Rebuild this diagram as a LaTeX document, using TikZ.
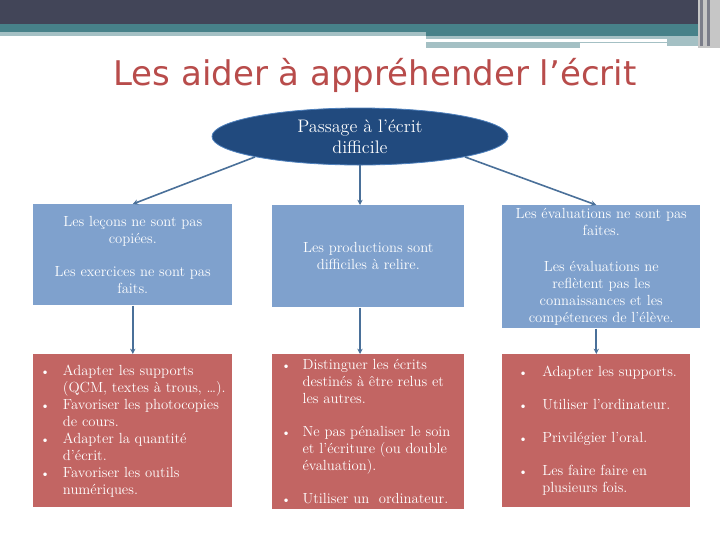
\documentclass[tikz,border=0pt]{standalone}
\usepackage{fontspec}
\newfontfamily\titrefont{DejaVu Sans}
\usetikzlibrary{arrows.meta,shapes.geometric}

\definecolor{bandeau}{RGB}{66,69,88}
\definecolor{sarcelle}{RGB}{71,129,137}
\definecolor{sarcelleclair}{RGB}{164,192,196}
\definecolor{titre}{RGB}{184,76,75}
\definecolor{ovale}{RGB}{33,74,126}
\definecolor{ovalebord}{RGB}{79,129,189}
\definecolor{bleuboite}{RGB}{127,161,205}
\definecolor{rougeboite}{RGB}{194,101,99}
\definecolor{lien}{RGB}{74,112,153}

\newcommand{\px}{0.75pt}
\newcommand{\puce}[1][14pt]{\makebox[#1][l]{\hspace*{-3pt}{\small\textbullet}}}
\newcommand{\suite}[1][14pt]{\hspace*{#1}}

\tikzset{
    boite/.style={rectangle, text=white, inner sep=0pt, anchor=north west,
        font=\fontsize{11}{12.75}\selectfont},
    bleu/.style={boite, fill=bleuboite, align=center},
    rouge/.style={boite, fill=rougeboite},
    liste/.style={text=white, inner sep=0pt, anchor=west, align=left,
        font=\fontsize{11}{12.75}\selectfont},
    fleche/.style={->, draw=lien, line width=1.2pt}
}

\begin{document}
\begin{tikzpicture}[x=0.75pt, y=-0.75pt, >={Stealth[length=4pt,width=4pt]}]
\useasboundingbox (0,0) rectangle (720,540);

%% bandeau du haut
\fill[bandeau] (0,0) rectangle (720,24);
\fill[sarcelle] (0,24) rectangle (720,32);
\fill[sarcelleclair] (0,32) rectangle (426,36);
\fill[sarcelle] (426,32) rectangle (700,36);
\fill[sarcelleclair] (426,36) rectangle (700,46);
\fill[sarcelleclair] (426,46) rectangle (580,48);
\fill[white] (426,39) rectangle (667,41.5);
\fill[white] (580,43) rectangle (667,48);
\fill[gray!45] (698,0) rectangle (720,48);
\foreach \xa in {700,707}
{
    \fill[bandeau!70] (\xa,0) rectangle (\xa+2.5,46);
}

%% titre
\node[font=\titrefont\fontsize{25.5}{30}\selectfont, text=titre, anchor=base] (titre) at (375,85) {Les aider à appréhender l’écrit};

%% ovale central
\node[ellipse, fill=ovale, draw=ovalebord, line width=0.6pt, text=white, inner sep=0pt,
      minimum width=296*\px, minimum height=57*\px, align=center,
      font=\fontsize{13.6}{15.8}\selectfont] (passage) at (360,136.5) {Passage à l’écrit\\difficile};

%% constats
\node[bleu, minimum width=199*\px, minimum height=101*\px] (lecons) at (33,204)
    {Les leçons ne sont pas\\copiées.\\[12pt]Les exercices ne sont pas\\faits.};
\node[bleu, minimum width=192*\px, minimum height=102*\px] (productions) at (272,205)
    {Les productions sont\\difficiles à relire.};
\node[bleu, minimum width=198*\px, minimum height=123*\px] (evaluations) at (502,205)
    {Les évaluations ne sont pas\\faites.\\[14pt]Les évaluations ne\\reflètent pas les\\connaissances et les\\compétences de l’élève.};

%% aides
\node[rouge, minimum width=199*\px, minimum height=153*\px] (aidesA) at (33,354) {};
\node[rouge, minimum width=192*\px, minimum height=155*\px] (aidesB) at (272,354) {};
\node[rouge, minimum width=188*\px, minimum height=153*\px] (aidesC) at (502,354) {};

\node[liste] (listeA) at ([xshift=11*\px, yshift=-0.5*\px]aidesA.west)
    {\puce Adapter les supports\\\suite (QCM, textes à trous, \dots).\\
     \puce Favoriser les photocopies\\\suite de cours.\\
     \puce Adapter la quantité\\\suite d’écrit.\\
     \puce Favoriser les outils\\\suite numériques.};
\node[liste] (listeB) at ([xshift=13*\px, yshift=0.5*\px]aidesB.west)
    {\puce[13pt]Distinguer les écrits\\\suite[13pt]destinés à être relus et\\\suite[13pt]les autres.\\[12pt]
     \puce[13pt]Ne pas pénaliser le soin\\\suite[13pt]et l’écriture (ou double\\\suite[13pt]évaluation).\\[12pt]
     \puce[13pt]Utiliser un\ \ ordinateur.};
\node[liste] (listeC) at ([xshift=20*\px]aidesC.west)
    {\puce[15pt]Adapter les supports.\\[12pt]
     \puce[15pt]Utiliser l’ordinateur.\\[12pt]
     \puce[15pt]Privilégier l’oral.\\[12pt]
     \puce[15pt]Les faire faire en\\\suite[15pt]plusieurs fois.};

%% liens
\draw[fleche] (passage.south west) -- (lecons.north);
\draw[fleche] (passage.south) -- (passage.south |- productions.north);
\draw[fleche] (passage.south east) -- (aidesC.north |- evaluations.north);
\draw[fleche] (lecons.south) -- (aidesA.north);
\draw[fleche] (productions.south -| passage.south) -- (aidesB.north -| passage.south);
\draw[fleche] (aidesC.north |- evaluations.south) -- (aidesC.north);

\end{tikzpicture}
\end{document}
